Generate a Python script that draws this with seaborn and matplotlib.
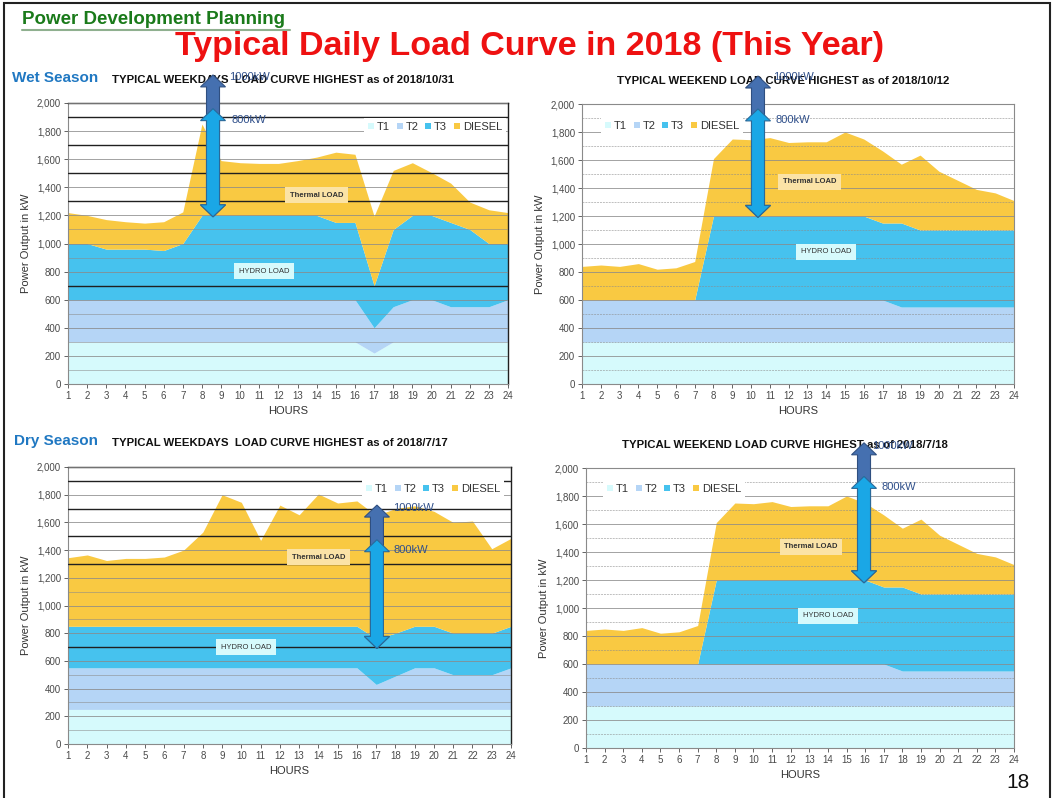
import matplotlib
matplotlib.use("Agg")
import matplotlib.pyplot as plt
import seaborn as sns
import numpy as np
from matplotlib.patches import Polygon, Rectangle, Patch
from matplotlib.lines import Line2D
from matplotlib.transforms import IdentityTransform

# ---------------- data ----------------
hours = list(range(1, 25))
series_names = ["T1", "T2", "T3", "DIESEL"]

wet_wd_t1 = [300] * 16 + [220, 300, 300, 300, 300, 300, 300, 300]
wet_wd_t2 = [300] * 16 + [180, 250, 300, 300, 250, 250, 250, 300]
wet_wd_t3 = [400, 400, 360, 360, 360, 350, 400, 600, 600, 600, 600, 600,
             600, 600, 550, 550, 300, 550, 600, 600, 600, 550, 450, 400]
wet_wd_diesel = [220, 200, 210, 195, 185, 205, 225, 650, 390, 375, 370, 370,
                 390, 415, 500, 485, 495, 420, 375, 305, 280, 195, 240, 220]

wet_we_t1 = [300] * 24
wet_we_t2 = [300] * 17 + [250] * 7
wet_we_t3 = [0, 0, 0, 0, 0, 0, 0, 600, 600, 600, 600, 600,
             600, 600, 600, 600, 550, 600, 550, 550, 550, 550, 550, 550]
wet_we_diesel = [240, 250, 240, 260, 220, 230, 275, 410, 550, 545, 560, 525,
                 530, 530, 600, 550, 515, 420, 535, 420, 355, 290, 265, 210]

dry_wd_t1 = [250] * 24
dry_wd_t2 = [300] * 16 + [180, 240, 300, 300, 250, 250, 250, 300]
dry_wd_t3 = [300] * 16 + [330, 310, 300, 300, 300, 300, 300, 300]
dry_wd_diesel = [495, 515, 475, 490, 490, 500, 550, 680, 950, 895, 620, 875,
                 805, 955, 890, 905, 890, 900, 870, 830, 800, 810, 610, 635]

dry_we_t1 = [300] * 24
dry_we_t2 = [300] * 17 + [250] * 7
dry_we_t3 = [0, 0, 0, 0, 0, 0, 0, 600, 600, 600, 600, 600,
             600, 600, 600, 600, 550, 600, 550, 550, 550, 550, 550, 550]
dry_we_diesel = [240, 250, 240, 260, 220, 230, 275, 410, 550, 545, 560, 525,
                 530, 530, 600, 550, 515, 420, 535, 420, 355, 290, 265, 210]

panel_titles = [
    "TYPICAL WEEKDAYS  LOAD CURVE HIGHEST as of 2018/10/31",
    "TYPICAL WEEKEND LOAD CURVE HIGHEST as of 2018/10/12",
    "TYPICAL WEEKDAYS  LOAD CURVE HIGHEST as of 2018/7/17",
    "TYPICAL WEEKEND LOAD CURVE HIGHEST as of 2018/7/18",
]
y_ticks = list(range(0, 2001, 200))

# annotation specs: arrow hour, bottom, top(800kW), top(1000kW)
arrow_specs = [(8.58, 1190, 1960, 2200), (10.37, 1190, 1965, 2200),
               (17.04, 690, 1475, 1725), (15.94, 1180, 1940, 2180)]
thermal_pos = [(14.0, 1345), (13.1, 1443), (14.0, 1350), (13.1, 1436)]
hydro_pos = [(11.25, 804), (14.0, 943), (10.24, 700), (14.0, 943)]

# ---------------- style ----------------
sns.set_theme(style="white")
plt.rcParams["font.family"] = ["Liberation Sans", "DejaVu Sans"]

colors = ["#d6fafc", "#b5d5f6", "#46c2ee", "#f9c942"]
W, H = 1054, 798
fig = plt.figure(figsize=(W / 100, H / 100), dpi=100)

def fx(px):
    return px / W

def fy(py):
    return 1 - py / H

# axes boxes in pixels: left, right, top, bottom
boxes = [(68, 508, 103, 384), (582, 1014, 104, 384),
         (68, 511, 467, 744), (586, 1014, 468, 748)]
data = [
    (wet_wd_t1, wet_wd_t2, wet_wd_t3, wet_wd_diesel),
    (wet_we_t1, wet_we_t2, wet_we_t3, wet_we_diesel),
    (dry_wd_t1, dry_wd_t2, dry_wd_t3, dry_wd_diesel),
    (dry_we_t1, dry_we_t2, dry_we_t3, dry_we_diesel),
]
legend_centers = [(435, 127), (672, 126), (433, 489), (674, 489)]
title_left = [(112, 80), (617, 81), (112, 443), (622, 445)]
label_pos = [((229, 77), (231, 120)), ((773, 77), (775, 120)),
             ((393, 508), (393, 550)), ((872, 446), (882, 487))]


def double_arrow(ax, x, y0, y1, face, edge, shaft=13, head=25, hlen=12):
    px, p0 = ax.transData.transform((x, y0))
    _, p1 = ax.transData.transform((x, y1))
    s, h = shaft / 2, head / 2
    pts = [(px - s, p0 + hlen), (px - h, p0 + hlen), (px, p0),
           (px + h, p0 + hlen), (px + s, p0 + hlen), (px + s, p1 - hlen),
           (px + h, p1 - hlen), (px, p1), (px - h, p1 - hlen),
           (px - s, p1 - hlen)]
    poly = Polygon(pts, closed=True, facecolor=face, edgecolor=edge,
                   linewidth=0.8, transform=IdentityTransform(), zorder=20)
    fig.add_artist(poly)


for i, (box, series) in enumerate(zip(boxes, data)):
    l, r, t, b = box
    ax = fig.add_axes([fx(l), fy(b), fx(r - l), (b - t) / H])
    ax.stackplot(hours, *series, colors=colors, labels=series_names,
                 linewidth=0, zorder=2)
    ax.set_xlim(1, 24)
    ax.set_ylim(0, 2000)
    ax.set_xticks(hours)
    ax.set_yticks(y_ticks)
    ax.yaxis.set_major_formatter(matplotlib.ticker.FuncFormatter(
        lambda v, p: f"{v:,.0f}"))
    ax.tick_params(axis="both", labelsize=7, colors="#4a4a4a", length=3,
                   width=0.6, direction="out", pad=2)
    ax.tick_params(axis="x", bottom=True)
    ax.tick_params(axis="y", left=True)
    left_panel = i in (0, 2)
    for yv in range(100, 2001, 100):
        if left_panel and yv in (700, 1300, 1500, 1700, 1900):
            ax.axhline(yv, color="#202020", lw=1.0, zorder=3)
        elif yv % 200 == 0:
            ax.axhline(yv, color="#8a8a8a", lw=0.7, alpha=0.8, zorder=3)
        else:
            ax.axhline(yv, color="#8a8a8a", lw=0.7, alpha=0.55, zorder=3,
                       linestyle="-" if left_panel else (0, (2, 1)))
    for side in ["left", "bottom"]:
        ax.spines[side].set_color("#8a8a8a")
        ax.spines[side].set_linewidth(0.8)
    for side in ["top", "right"]:
        ax.spines[side].set_color("#202020" if left_panel else "#8a8a8a")
        ax.spines[side].set_linewidth(1.0 if left_panel else 0.8)
    ax.set_xlabel("HOURS", fontsize=8, color="#333333", labelpad=4)
    ax.set_ylabel("Power Output in kW", fontsize=8, color="#333333",
                  labelpad=4)

    # text boxes
    tx, ty = thermal_pos[i]
    ax.text(tx, ty, "Thermal LOAD", fontsize=5.5, fontweight="bold",
            ha="center", va="center", color="#333333", zorder=6,
            bbox=dict(boxstyle="square,pad=0.6", fc="#fbe3a6", ec="none"))
    hx, hy = hydro_pos[i]
    ax.text(hx, hy, "HYDRO LOAD", fontsize=5.5, ha="center", va="center",
            color="#333333", zorder=6,
            bbox=dict(boxstyle="square,pad=0.6", fc="#d6fafc", ec="none"))

    # legend
    handles = [Patch(facecolor=c, edgecolor="none") for c in colors]
    cx, cy = legend_centers[i]
    leg = ax.legend(handles, series_names, loc="center",
                    bbox_to_anchor=(fx(cx), fy(cy)),
                    bbox_transform=fig.transFigure, ncol=4, fontsize=8,
                    handlelength=0.55, handleheight=0.55, handletextpad=0.25,
                    columnspacing=0.6, frameon=True, fancybox=False,
                    borderpad=0.35, borderaxespad=0)
    leg.get_frame().set_facecolor("white")
    leg.get_frame().set_edgecolor("none")
    leg.get_frame().set_alpha(1)
    leg.set_zorder(10)
    for txt in leg.get_texts():
        txt.set_color("#333333")

    # panel title
    tlx, tly = title_left[i]
    fig.text(fx(tlx), fy(tly), panel_titles[i], fontsize=8.2,
             fontweight="bold", color="#111111", ha="left", va="center")

    # arrows
    ahx, abot, a800, a1000 = arrow_specs[i]
    double_arrow(ax, ahx, abot, a1000, "#4570b0", "#2f4f80")
    double_arrow(ax, ahx, abot, a800, "#1aa7e6", "#2a6a9a")
    (l1x, l1y), (l8x, l8y) = label_pos[i]
    fig.text(fx(l1x), fy(l1y), "1000kW", fontsize=8, color="#2f4f8a",
             ha="left", va="center", zorder=25)
    fig.text(fx(l8x), fy(l8y), "800kW", fontsize=8, color="#2f4f8a",
             ha="left", va="center", zorder=25)

# season labels
fig.text(fx(12), fy(78), "Wet Season", fontsize=11, fontweight="bold",
         color="#2078c2", ha="left", va="center")
fig.text(fx(14), fy(441), "Dry Season", fontsize=11, fontweight="bold",
         color="#2078c2", ha="left", va="center")

# slide header
fig.text(fx(22), fy(19), "Power Development Planning", fontsize=13.5,
         fontweight="bold", color="#1a7a1a", ha="left", va="center")
fig.add_artist(Line2D([fx(22), fx(290)], [fy(30), fy(30)],
                      color="#8fb08f", lw=1.5, transform=fig.transFigure))
fig.text(fx(530), fy(46), "Typical Daily Load Curve in 2018 (This Year)",
         fontsize=24.5, fontweight="bold", color="#ee1111", ha="center",
         va="center")
fig.text(fx(1018), fy(782), "18", fontsize=15, color="#111111",
         ha="center", va="center")

# slide border
fig.add_artist(Rectangle((fx(4), -0.01), fx(1046), 1 - 3 / H + 0.01,
                         fill=False, edgecolor="#222222", lw=1.5,
                         transform=fig.transFigure))

fig.savefig("out.png", dpi=100)
